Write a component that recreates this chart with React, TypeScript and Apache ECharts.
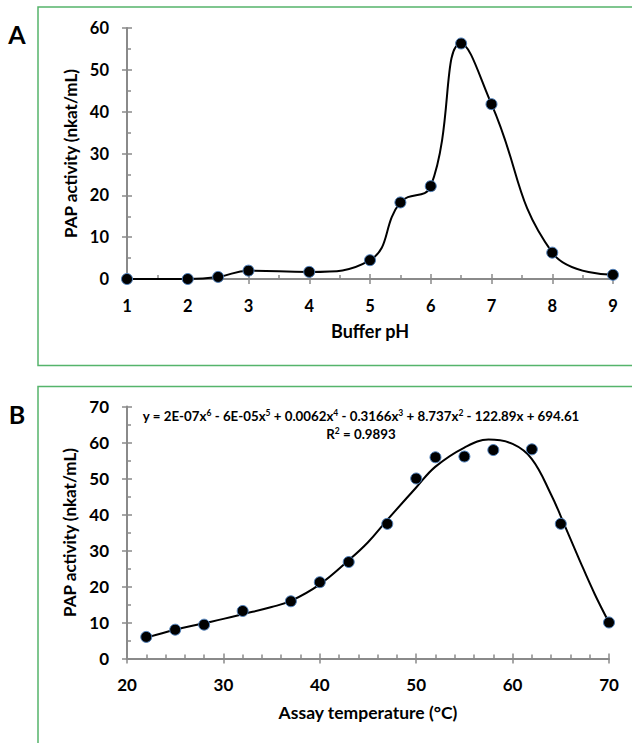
import React, { useEffect, useRef } from "react";
import * as echarts from "echarts";

// Panel A: buffer pH vs PAP activity
const phValues = [1, 2, 2.5, 3, 4, 5, 5.5, 6, 6.5, 7, 8, 9];
const phActivity = [0, 0, 0.5, 2.0, 1.7, 4.5, 18.3, 22.2, 56.3, 41.8, 6.3, 1.0];

// Panel B: assay temperature vs PAP activity
const tempValues = [22, 25, 28, 32, 37, 40, 43, 47, 50, 52, 55, 58, 62, 65, 70];
const tempActivity = [6.0, 8.0, 9.4, 13.2, 15.9, 21.2, 26.8, 37.4, 50.0, 55.9, 56.1, 57.9, 58.1, 37.4, 10.0];

// Panel B: polynomial trend line
const trendX = [22, 25, 28, 30, 32, 35, 37, 40, 43, 45, 47, 50, 52, 55, 57.5, 60, 62, 64, 65, 67, 68.5, 70];
const trendY = [5.8, 8.0, 9.8, 11.0, 12.3, 14.3, 16.0, 20.6, 27.3, 32.3, 38.5, 47.5, 53.3, 58.6, 60.8, 59.6, 55.4, 45.5, 39.5, 27.0, 18.0, 10.0];

const equationParts = ["y = 2E-07x", "6", " - 6E-05x", "5", " + 0.0062x", "4", " - 0.3166x", "3", " + 8.737x", "2", " - 122.89x + 694.61"];
const rSquared = "0.9893";

const FONT = "Lato, 'Open Sans', sans-serif";
const AXIS_GRAY = "#8a8a8a";
const GREEN = "#55b46b";

function pairs(xs: number[], ys: number[]) {
  return xs.map((x, i) => [x, ys[i]]);
}

export default function App() {
  const ref = useRef<HTMLDivElement>(null);

  useEffect(() => {
    if (!ref.current) return;
    const chart = echarts.init(ref.current, null, { renderer: "svg" });

    const tickStyle = { color: AXIS_GRAY, width: 1.5 };
    const mainAxis = (opts: any) => ({
      type: "value",
      axisLine: { show: true, onZero: false, lineStyle: { color: AXIS_GRAY, width: 2 } },
      axisTick: { show: true, inside: true, length: 5, lineStyle: tickStyle },
      splitLine: { show: false },
      nameLocation: "middle",
      ...opts,
    });
    const outerTickAxis = (opts: any) => ({
      type: "value",
      axisLine: { show: false, onZero: false },
      axisTick: { show: true, inside: false, length: 5, lineStyle: tickStyle },
      axisLabel: { show: false },
      splitLine: { show: false },
      ...opts,
    });
    const txt = (size: number, extra: any = {}) => ({
      color: "#000", fontWeight: "bold", fontFamily: FONT, fontSize: size, ...extra,
    });

    const eqText = equationParts
      .map((p, i) => (i % 2 === 0 ? `{m|${p}}` : `{s|${p}}`))
      .join("");

    const rich = {
      m: { fontSize: 13.3, fontWeight: "bold", fontFamily: FONT, fill: "#000", lineHeight: 15 },
      s: { fontSize: 8.5, fontWeight: "bold", fontFamily: FONT, fill: "#000", lineHeight: 9, verticalAlign: "top" },
    };

    chart.setOption({
      animation: false,
      grid: [
        { left: 127, top: 28, width: 486, height: 251 },
        { left: 127, top: 406.5, width: 482, height: 252 },
      ],
      xAxis: [
        mainAxis({
          gridIndex: 0, position: "bottom", min: 1, max: 9, interval: 1,
          minorTick: { show: true, splitNumber: 2, length: 4, lineStyle: tickStyle },
          axisLabel: txt(16.5, { margin: 18 }),
          name: "Buffer pH", nameGap: 43, nameTextStyle: txt(18),
        }),
        mainAxis({
          gridIndex: 1, position: "bottom", min: 20, max: 70, interval: 10,
          minorTick: { show: true, splitNumber: 5, length: 4, lineStyle: tickStyle },
          axisLabel: txt(17, { margin: 17 }),
          name: "Assay temperature (°C)", nameGap: 45, nameTextStyle: txt(17.5),
        }),
        outerTickAxis({ gridIndex: 0, position: "bottom", min: 1, max: 9, interval: 1 }),
        outerTickAxis({ gridIndex: 1, position: "bottom", min: 20, max: 70, interval: 10 }),
      ],
      yAxis: [
        mainAxis({
          gridIndex: 0, position: "left", min: 0, max: 60, interval: 10,
          minorTick: { show: true, splitNumber: 2, length: 4, lineStyle: tickStyle },
          axisLabel: txt(16.5, { margin: 18 }),
          name: "PAP activity (nkat/mL)", nameGap: 47, nameTextStyle: txt(17),
        }),
        mainAxis({
          gridIndex: 1, position: "left", min: 0, max: 70, interval: 10,
          minorTick: { show: true, splitNumber: 2, length: 4, lineStyle: tickStyle },
          axisLabel: txt(17, { margin: 18 }),
          name: "PAP activity (nkat/mL)", nameGap: 47, nameTextStyle: txt(17),
        }),
        outerTickAxis({ gridIndex: 0, position: "left", min: 0, max: 60, interval: 10 }),
        outerTickAxis({ gridIndex: 1, position: "left", min: 0, max: 70, interval: 10 }),
      ],
      series: [
        {
          type: "line",
          xAxisIndex: 0,
          yAxisIndex: 0,
          data: pairs(phValues, phActivity),
          smooth: 0.45,
          symbol: "circle",
          symbolSize: 11,
          itemStyle: { color: "#000", borderColor: "#4f81bd", borderWidth: 1 },
          lineStyle: { color: "#000", width: 2 },
          z: 5,
        },
        {
          type: "line",
          xAxisIndex: 1,
          yAxisIndex: 1,
          data: pairs(trendX, trendY),
          smooth: 0.4,
          showSymbol: false,
          symbol: "none",
          lineStyle: { color: "#000", width: 2 },
          z: 4,
        },
        {
          type: "scatter",
          xAxisIndex: 1,
          yAxisIndex: 1,
          data: pairs(tempValues, tempActivity),
          symbol: "circle",
          symbolSize: 11,
          itemStyle: { color: "#000", borderColor: "#4f81bd", borderWidth: 1, opacity: 1 },
          z: 6,
        },
      ],
      graphic: [
        {
          type: "rect",
          shape: { x: 38, y: 7, width: 640, height: 358.5 },
          style: { fill: "none", stroke: GREEN, lineWidth: 1.5 },
          silent: true,
          z: -1,
        },
        {
          type: "rect",
          shape: { x: 38, y: 386.5, width: 640, height: 400 },
          style: { fill: "none", stroke: GREEN, lineWidth: 1.5 },
          silent: true,
          z: -1,
        },
        {
          type: "text",
          x: 17, y: 34,
          style: { text: "A", fontSize: 25, fontWeight: "bold", fontFamily: FONT, fill: "#000", align: "center", verticalAlign: "middle" },
        },
        {
          type: "text",
          x: 17, y: 414,
          style: { text: "B", fontSize: 25, fontWeight: "bold", fontFamily: FONT, fill: "#000", align: "center", verticalAlign: "middle" },
        },
        {
          type: "text",
          x: 361, y: 415.5,
          style: { text: eqText, rich, align: "center", verticalAlign: "middle" },
        },
        {
          type: "text",
          x: 361, y: 434,
          style: { text: `{m|R}{s|2}{m| = ${rSquared}}`, rich, align: "center", verticalAlign: "middle" },
        },
      ],
    });

    return () => chart.dispose();
  }, []);

  return (
    <div
      ref={ref}
      style={{ position: "absolute", left: 0, top: 0, width: 632, height: 743, background: "#fff" }}
    />
  );
}
